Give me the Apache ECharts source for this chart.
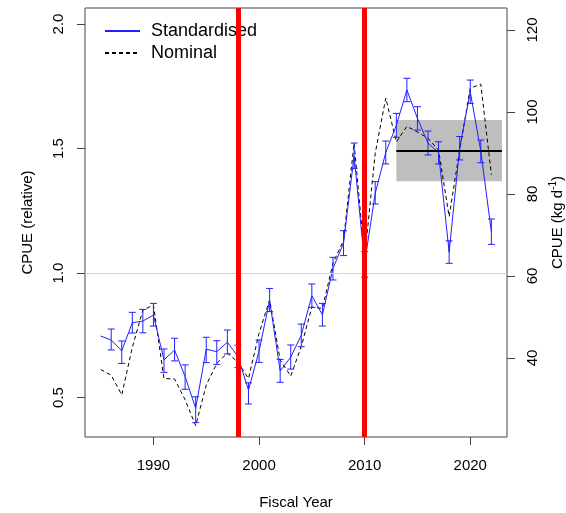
<!DOCTYPE html>
<html>
<head>
<meta charset="utf-8">
<script src="https://cdn.jsdelivr.net/npm/echarts@6/dist/echarts.min.js"></script>
<style>html,body{margin:0;padding:0;background:#fff}#c{width:566px;height:513px}</style>
</head>
<body>
<div id="c"></div>
<script>
var years = [1985,1986,1987,1988,1989,1990,1991,1992,1993,1994,1995,1996,1997,1998,1999,2000,2001,2002,2003,2004,2005,2006,2007,2008,2009,2010,2011,2012,2013,2014,2015,2016,2017,2018,2019,2020,2021,2022];
var stdIndex = [0.747,0.731,0.688,0.800,0.807,0.831,0.651,0.691,0.584,0.457,0.694,0.684,0.722,0.665,0.530,0.686,0.890,0.607,0.662,0.750,0.909,0.832,1.018,1.120,1.470,1.040,1.320,1.484,1.593,1.735,1.621,1.522,1.483,1.084,1.501,1.728,1.489,1.166];
var stdLower = [null,0.691,0.637,0.759,0.760,0.787,0.601,0.647,0.533,0.399,0.640,0.633,0.675,0.620,0.474,0.641,0.845,0.561,0.614,0.704,0.862,0.787,0.972,1.070,1.420,0.983,1.277,1.438,1.545,1.688,1.574,1.474,1.438,1.039,1.454,1.681,1.443,1.115];
var stdUpper = [null,0.775,0.727,0.842,0.854,0.878,0.695,0.738,0.631,0.503,0.742,0.728,0.771,0.710,0.559,0.731,0.938,0.653,0.711,0.795,0.956,0.878,1.063,1.170,1.522,1.086,1.367,1.530,1.641,1.782,1.668,1.570,1.527,1.129,1.548,1.775,1.534,1.217];
var nominalKg = [37.2,35.8,31.0,42.6,51.7,52.9,35.0,34.9,29.8,23.5,33.4,38.7,41.2,39.0,35.0,46.0,54.2,39.5,35.6,42.8,52.4,52.1,63.1,68.7,92.4,64.4,89.9,103.4,92.7,96.5,95.1,93.6,90.7,74.5,90.7,105.8,106.8,84.7];
var breakYears = [1998, 2010];
var recentYears = [2013, 2023];
var recentMean = 1.493;
var recentLow = 1.369;
var recentHigh = 1.614;
var refLevel = 1.0;
var xTicks = [1990, 2000, 2010, 2020];
var leftTicks = [0.5, 1.0, 1.5, 2.0];
var rightTicks = [40, 60, 80, 100, 120];

var kgPerRel = 60.73;
var relMin = 0.3414, relMax = 2.0643;
var font = 'Liberation Sans, Arial, sans-serif';
var axisCol = '#444';
var blue = '#2020ff';

var stdData = years.map(function(y,i){return [y, stdIndex[i]];});
var ebData = [];
years.forEach(function(y,i){ if (stdLower[i] !== null) ebData.push([y, stdLower[i], stdUpper[i]]); });
var nomData = years.map(function(y,i){return [y, nominalKg[i]];});

var chart = echarts.init(document.getElementById('c'));
chart.setOption({
  animation: false,
  backgroundColor: '#fff',
  textStyle: {fontFamily: font},
  grid: {left: 85, right: 59, top: 8, bottom: 76, show: true, borderColor: axisCol, borderWidth: 1,
    backgroundColor: 'transparent', containLabel: false, outerBoundsMode: 'none'},
  legend: {
    orient: 'vertical', left: 99, top: 17, itemWidth: 35, itemHeight: 14, itemGap: 4,
    data: ['Standardised', 'Nominal'],
    itemStyle: {opacity: 0, color: 'transparent', borderWidth: 0},
    textStyle: {fontSize: 18, color: '#000', fontFamily: font, padding: [0,0,0,6]},
    z: 3
  },
  xAxis: {
    type: 'value', min: 1983.52, max: 2023.48,
    name: 'Fiscal Year', nameLocation: 'middle', nameGap: 58,
    nameTextStyle: {fontSize: 15, color: '#000', fontFamily: font},
    axisLine: {show: false},
    axisTick: {show: true, length: 8, lineStyle: {color: axisCol}, customValues: xTicks},
    axisLabel: {fontSize: 15, color: '#000', margin: 21, customValues: xTicks, fontFamily: font,
      formatter: function(v){return String(Math.round(v));}},
    splitLine: {show: false}
  },
  yAxis: [{
    type: 'value', min: relMin, max: relMax, position: 'left',
    name: 'CPUE (relative)', nameLocation: 'middle', nameGap: 50, nameRotate: 90,
    nameTextStyle: {fontSize: 15, color: '#000', fontFamily: font},
    axisLine: {show: false},
    axisTick: {show: true, length: 8, lineStyle: {color: axisCol}, customValues: leftTicks},
    axisLabel: {fontSize: 15, color: '#000', rotate: 90, margin: 19, customValues: leftTicks, fontFamily: font,
      formatter: function(v){return v.toFixed(1);}},
    splitLine: {show: false}
  }, {
    type: 'value', min: relMin * kgPerRel, max: relMax * kgPerRel, position: 'right',
    name: '{a|CPUE (kg d}{s|-1}{a|)}', nameLocation: 'middle', nameGap: 40, nameRotate: 90,
    nameTextStyle: {fontSize: 15, color: '#000', fontFamily: font,
      rich: {a: {fontSize: 15, color: '#000', fontFamily: font}, s: {fontSize: 10, color: '#000', fontFamily: font, padding: [0,0,9,0]}}},
    axisLine: {show: false},
    axisTick: {show: true, length: 8, lineStyle: {color: axisCol}, customValues: rightTicks},
    axisLabel: {fontSize: 15, color: '#000', rotate: 90, margin: 18, customValues: rightTicks, fontFamily: font,
      formatter: function(v){return String(Math.round(v));}},
    splitLine: {show: false}
  }],
  series: [{
    name: 'ref', type: 'line', data: [], yAxisIndex: 0, silent: true, z: 1,
    markLine: {symbol: 'none', silent: true, label: {show: false}, animation: false,
      lineStyle: {color: '#d3d3d3', width: 1, type: 'solid'},
      data: [{yAxis: refLevel}]},
    markArea: {silent: true, itemStyle: {color: '#bebebe'},
      data: [[{coord: [recentYears[0], recentLow]}, {coord: [recentYears[1], recentHigh]}]]}
  }, {
    name: 'mean', type: 'line', data: [], yAxisIndex: 0, silent: true, z: 2,
    markLine: {symbol: 'none', silent: true, label: {show: false}, animation: false,
      lineStyle: {color: '#000', width: 2, type: 'solid'},
      data: [[{coord: [recentYears[0], recentMean]}, {coord: [recentYears[1], recentMean]}]]}
  }, {
    name: 'Nominal', type: 'line', yAxisIndex: 1, data: nomData, symbol: 'none', z: 3,
    lineStyle: {color: '#000', width: 1, type: [4, 3]}, itemStyle: {color: '#000'}
  }, {
    name: 'Standardised', type: 'line', yAxisIndex: 0, data: stdData, symbol: 'none', z: 4,
    lineStyle: {color: blue, width: 1}, itemStyle: {color: blue}
  }, {
    name: 'eb', type: 'custom', yAxisIndex: 0, data: ebData, z: 4,
    renderItem: function(params, api){
      var x = api.value(0), lo = api.value(1), hi = api.value(2);
      var a = api.coord([x, lo]), b = api.coord([x, hi]);
      var w = 3.5, st = {stroke: blue, lineWidth: 1};
      return {type: 'group', children: [
        {type: 'line', shape: {x1: a[0], y1: a[1], x2: b[0], y2: b[1]}, style: st},
        {type: 'line', shape: {x1: a[0]-w, y1: a[1], x2: a[0]+w, y2: a[1]}, style: st},
        {type: 'line', shape: {x1: b[0]-w, y1: b[1], x2: b[0]+w, y2: b[1]}, style: st}
      ]};
    }
  }, {
    name: 'breaks', type: 'line', data: [], yAxisIndex: 0, silent: true, z: 10,
    markLine: {symbol: 'none', silent: true, label: {show: false}, animation: false,
      lineStyle: {color: '#ff0000', width: 5, type: 'solid'},
      data: breakYears.map(function(y){return {xAxis: y};})}
  }]
});
</script>
</body>
</html>
